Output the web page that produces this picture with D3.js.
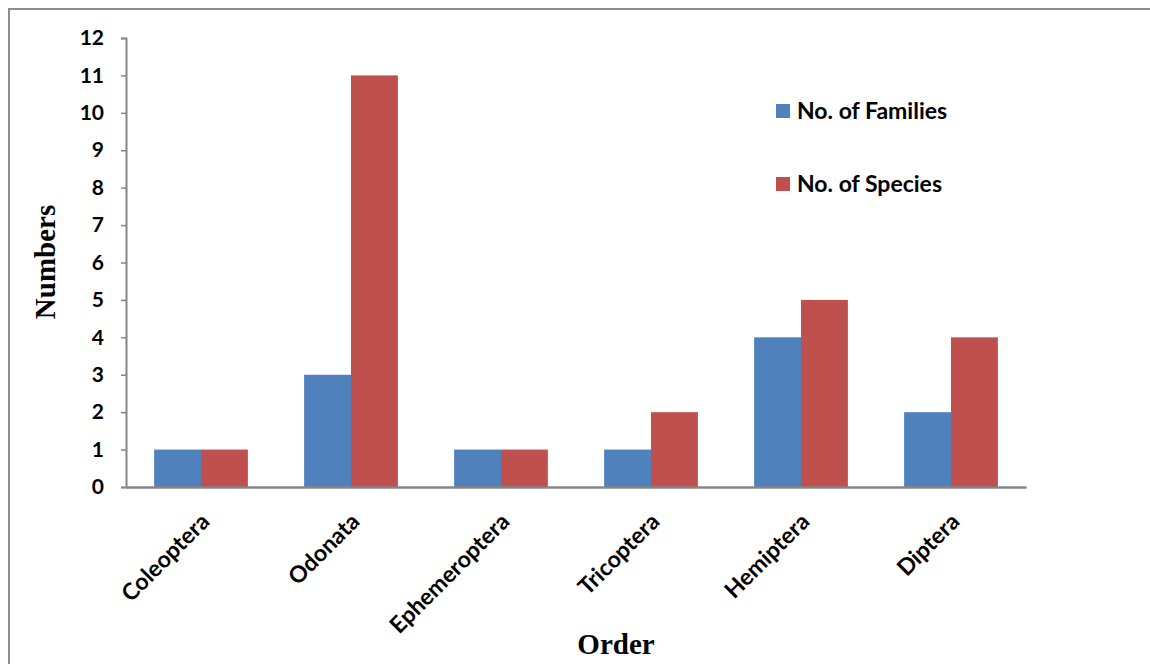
<!DOCTYPE html>
<html>
<head>
<meta charset="utf-8">
<script src="https://cdn.jsdelivr.net/npm/d3@7"></script>
<style>
  body { margin: 0; background: #fff; }
  svg { display: block; }
</style>
</head>
<body>
<div id="chart"></div>
<script>
// --- Data ---
const orders = ["Coleoptera", "Odonata", "Ephemeroptera", "Tricoptera", "Hemiptera", "Diptera"];
const families = [1, 3, 1, 1, 4, 2];
const species = [1, 11, 1, 2, 5, 4];
const seriesNames = ["No. of Families", "No. of Species"];
const seriesColors = ["#4f81bd", "#c0504d"];
const yTicks = [0, 1, 2, 3, 4, 5, 6, 7, 8, 9, 10, 11, 12];

const W = 1150, H = 664;
const margin = { top: 38, left: 126 };
const plotW = 900, plotH = 449;

const svg = d3.select("#chart").append("svg")
    .attr("width", W)
    .attr("height", H);

// outer frame (right and bottom edges fall outside the picture)
svg.append("rect")
    .attr("x", 9).attr("y", 9)
    .attr("width", W + 10).attr("height", H + 10)
    .attr("fill", "none")
    .attr("stroke", "#8c8c8c")
    .attr("stroke-width", 2);

const g = svg.append("g")
    .attr("transform", `translate(${margin.left},${margin.top})`);

const x = d3.scaleBand().domain(orders).range([0, plotW]).paddingInner(0.375).paddingOuter(0.1875);
const xSub = d3.scaleBand().domain(seriesNames).range([0, x.bandwidth()]);
const y = d3.scaleLinear().domain([0, 12]).range([plotH, 0]);

// bars
const rows = orders.map((o, i) => ({ order: o, values: [families[i], species[i]] }));
const groups = g.selectAll(".grp").data(rows).enter().append("g")
    .attr("transform", d => `translate(${x(d.order)},0)`);

groups.selectAll("rect")
    .data(d => d.values.map((v, k) => ({ name: seriesNames[k], value: v, color: seriesColors[k] })))
    .enter().append("rect")
    .attr("x", d => xSub(d.name))
    .attr("y", d => y(d.value))
    .attr("width", xSub.bandwidth())
    .attr("height", d => y(0) - y(d.value))
    .attr("fill", d => d.color);

// y axis
const yAxis = g.append("g")
    .call(d3.axisLeft(y).tickValues(yTicks).tickSize(5).tickPadding(17));
yAxis.select(".domain").attr("stroke", "#868686").attr("stroke-width", 2);
yAxis.selectAll(".tick line").attr("stroke", "#868686").attr("stroke-width", 1.5);
yAxis.selectAll(".tick text")
    .attr("fill", "#000")
    .style("font-family", "Lato, 'Open Sans', sans-serif")
    .style("font-weight", "bold")
    .style("font-size", "21px");

// x axis
const xAxis = g.append("g")
    .attr("transform", `translate(0,${plotH})`)
    .call(d3.axisBottom(x).tickSize(0).tickSizeOuter(0).tickPadding(0));
xAxis.select(".domain").attr("stroke", "#868686").attr("stroke-width", 2.5);
xAxis.selectAll(".tick text")
    .attr("fill", "#000")
    .style("font-family", "Lato, 'Open Sans', sans-serif")
    .style("font-weight", "bold")
    .style("font-size", "23px")
    .attr("text-anchor", "end")
    .attr("dy", 0)
    .attr("transform", "translate(10,36) rotate(-45)");

// axis titles
svg.append("text")
    .attr("transform", "translate(55,262) rotate(-90)")
    .attr("text-anchor", "middle")
    .style("font-family", "'Liberation Serif', 'Times New Roman', serif")
    .style("font-weight", "bold")
    .style("font-size", "29px")
    .text("Numbers");

svg.append("text")
    .attr("x", 616).attr("y", 654)
    .attr("text-anchor", "middle")
    .style("font-family", "'Liberation Serif', 'Times New Roman', serif")
    .style("font-weight", "bold")
    .style("font-size", "29px")
    .text("Order");

// legend
const legend = svg.append("g").attr("transform", "translate(776,104)");
const items = legend.selectAll(".item").data(seriesNames).enter().append("g")
    .attr("transform", (d, i) => `translate(0,${i * 73})`);
items.append("rect")
    .attr("width", 14).attr("height", 14)
    .attr("fill", (d, i) => seriesColors[i]);
items.append("text")
    .attr("x", 21).attr("y", 15)
    .style("font-family", "Lato, 'Open Sans', sans-serif")
    .style("font-weight", "bold")
    .style("font-size", "23px")
    .text(d => d);
</script>
</body>
</html>
